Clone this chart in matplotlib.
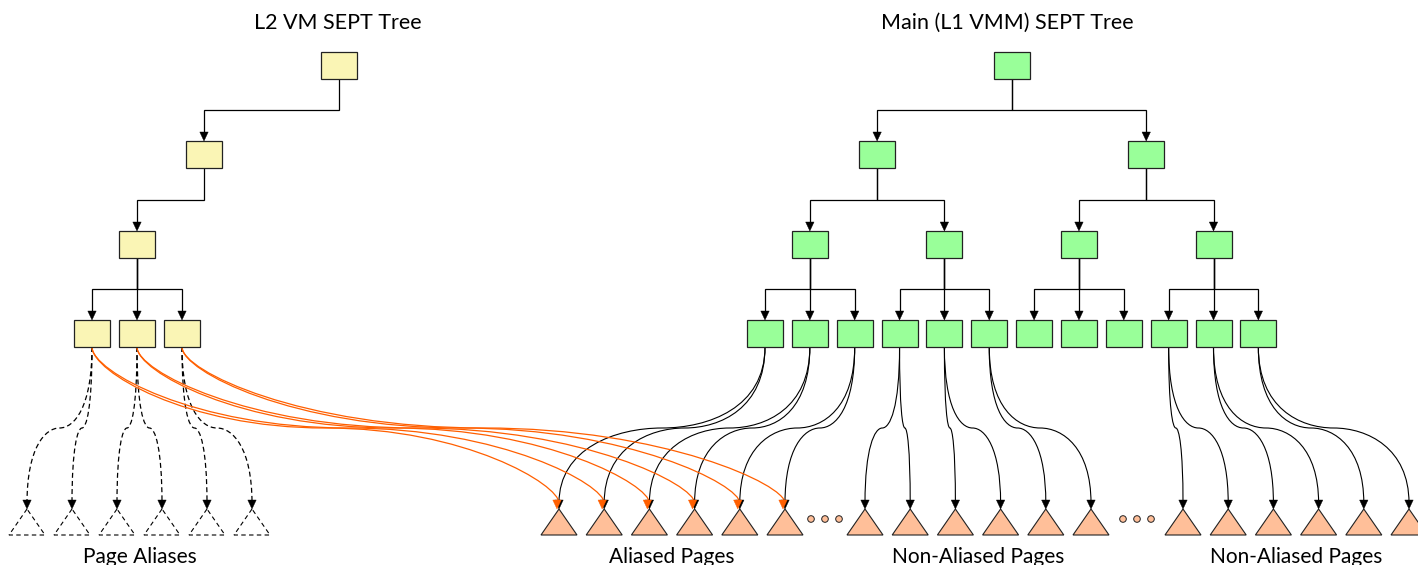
import matplotlib
matplotlib.use('Agg')
import matplotlib.pyplot as plt
from matplotlib.path import Path
from matplotlib.patches import PathPatch, Polygon, Rectangle, Circle

# ---- diagram content ----
titles = ['L2 VM SEPT Tree', 'Main (L1 VMM) SEPT Tree']
l2_chain_len = 3                 # single-child levels above the L2 leaf tables
l2_leaf_tables = 3
aliases_per_table = 2
main_branching = [2, 2, 3]       # children per node, level by level
# main-tree leaf table -> pages it maps (global page index)
main_leaf_pages = {0: [0, 1], 1: [2, 3], 2: [4, 5],
                   3: [6, 7], 4: [8, 9], 5: [10, 11],
                   9: [12, 13], 10: [14, 15], 11: [16, 17]}
page_groups = ['Aliased Pages', 'Non-Aliased Pages', 'Non-Aliased Pages']
pages_per_group = [6, 6, 6]
alias_label = 'Page Aliases'

# ---- layout (pixels) ----
W, H = 1418, 565
BOX_W, BOX_H = 36, 27
LEVEL_TOP = [52, 141, 231, 320]
TRI_TOP, TRI_BOT, TRI_W = 509, 535, 36
MID_Y = 428
L2_LEAF_X0, L2_PITCH = 92, 45
L2_CHAIN_STEP = [67, 135]
MAIN_LEAF_X0, MAIN_PITCH = 765, 44.85
ALIAS_X0, ALIAS_PITCH = 27, 45
GROUP_X0 = [559, 865, 1183]
PAGE_PITCH = 45.2

YELLOW = '#FAF5B5'
GREEN = '#99FF99'
PEACH = '#FFBF99'
ORANGE = '#FF5F00'
EDGE = '#222222'

fig = plt.figure(figsize=(W / 100, H / 100), dpi=100)
ax = fig.add_axes([0, 0, 1, 1])
ax.set_xlim(0, W)
ax.set_ylim(H, 0)
ax.axis('off')
plt.rcParams['font.family'] = ['Lato', 'DejaVu Sans']


def box(x, level, color):
    ax.add_patch(Rectangle((x - BOX_W / 2, LEVEL_TOP[level]), BOX_W, BOX_H,
                           facecolor=color, edgecolor=EDGE, lw=0.9, zorder=4))


def arrowhead(x, y, color='black'):
    ax.add_patch(Polygon([(x - 4.2, y - 9), (x + 4.2, y - 9), (x, y)], closed=True,
                         facecolor=color, edgecolor=color, lw=0.3, zorder=6))


def elbow(px, cx, level):
    y0 = LEVEL_TOP[level] + BOX_H
    y1 = LEVEL_TOP[level + 1]
    ym = (y0 + y1) / 2
    ax.plot([px, px, cx, cx], [y0, ym, ym, y1 - 8], color='black', lw=0.9, zorder=3,
            solid_joinstyle='miter')
    arrowhead(cx, y1)


def s_curve(sx, sy, tx, ty, color, ls='-', lw=0.8, k1=0.75, k2=0.45, z=2):
    mx = (sx + tx) / 2
    dy1 = MID_Y - sy
    dy2 = ty - MID_Y
    verts = [(sx, sy),
             (sx, sy + k1 * dy1), (mx - k2 * (mx - sx), MID_Y), (mx, MID_Y),
             (mx + k2 * (tx - mx), MID_Y), (tx, ty - k1 * dy2), (tx, ty - 6)]
    codes = [Path.MOVETO] + [Path.CURVE4] * 6
    ax.add_patch(PathPatch(Path(verts, codes), facecolor='none', edgecolor=color,
                           lw=lw, linestyle=ls, zorder=z))


def triangle(x, dashed=False):
    pts = [(x, TRI_TOP), (x - TRI_W / 2, TRI_BOT), (x + TRI_W / 2, TRI_BOT)]
    if dashed:
        ax.add_patch(Polygon(pts, closed=True, facecolor='white', edgecolor='black',
                             lw=0.8, linestyle=(0, (4, 3)), zorder=4))
    else:
        ax.add_patch(Polygon(pts, closed=True, facecolor=PEACH, edgecolor=EDGE,
                             lw=0.8, zorder=4))


# ---- page positions ----
page_x = []
for g, n in enumerate(pages_per_group):
    page_x += [GROUP_X0[g] + i * PAGE_PITCH for i in range(n)]
alias_x = [ALIAS_X0 + i * ALIAS_PITCH for i in range(l2_leaf_tables * aliases_per_table)]

# ---- L2 VM tree ----
l2_leaf_x = [L2_LEAF_X0 + i * L2_PITCH for i in range(l2_leaf_tables)]
chain_x = [sum(l2_leaf_x) / len(l2_leaf_x)]
for step in L2_CHAIN_STEP:
    chain_x.append(chain_x[-1] + step)
chain_x = chain_x[::-1]          # root first
for lv in range(l2_chain_len):
    box(chain_x[lv], lv, YELLOW)
for lv in range(l2_chain_len - 1):
    elbow(chain_x[lv], chain_x[lv + 1], lv)
for x in l2_leaf_x:
    box(x, 3, YELLOW)
    elbow(chain_x[-1], x, 2)
ax.text(chain_x[0] - 1, 23, titles[0], ha='center', va='center', fontsize=15.5)

# ---- main tree ----
n_leaves = 1
for b in main_branching:
    n_leaves *= b
levels = [[MAIN_LEAF_X0 + i * MAIN_PITCH for i in range(n_leaves)]]
for b in main_branching[::-1]:
    child = levels[0]
    levels.insert(0, [sum(child[i:i + b]) / b for i in range(0, len(child), b)])
for lv, xs in enumerate(levels):
    for i, x in enumerate(xs):
        box(x, lv, GREEN)
        if lv < len(levels) - 1:
            b = main_branching[lv]
            for cx in levels[lv + 1][i * b:(i + 1) * b]:
                elbow(x, cx, lv)
ax.text(levels[0][0] - 4, 23, titles[1], ha='center', va='center', fontsize=15.5)

# ---- leaf -> page curves ----
leaf_bot = LEVEL_TOP[3] + BOX_H
for leaf, pages in main_leaf_pages.items():
    for p in pages:
        s_curve(levels[-1][leaf], leaf_bot, page_x[p], TRI_TOP, 'black')
for j, x in enumerate(l2_leaf_x):
    for a in range(aliases_per_table):
        idx = j * aliases_per_table + a
        s_curve(x, leaf_bot, alias_x[idx], TRI_TOP, 'black', ls=(0, (4, 2.5)), lw=0.9)
        s_curve(x, leaf_bot, page_x[idx], TRI_TOP, ORANGE, lw=0.9, k1=0.3, k2=0.6, z=3)

# ---- pages ----
for x in alias_x:
    triangle(x, dashed=True)
    arrowhead(x, TRI_TOP)
for x in page_x:
    triangle(x)
for leaf, pages in main_leaf_pages.items():
    for p in pages:
        arrowhead(page_x[p], TRI_TOP)
for idx in range(l2_leaf_tables * aliases_per_table):
    arrowhead(page_x[idx] - 2, TRI_TOP, ORANGE)

# ellipsis dots between page groups
start = 0
for g in range(len(pages_per_group) - 1):
    start += pages_per_group[g]
    cx = (page_x[start - 1] + page_x[start]) / 2
    for d in (-14, 0, 14):
        ax.add_patch(Circle((cx + d, 519), 3.3, facecolor=PEACH, edgecolor=EDGE,
                            lw=0.7, zorder=4))

# ---- labels ----
ax.text(sum(alias_x) / len(alias_x), 563, alias_label, ha='center',
        va='baseline', fontsize=15)
start = 0
for g, n in enumerate(pages_per_group):
    xs = page_x[start:start + n]
    start += n
    ax.text(sum(xs) / n, 563, page_groups[g], ha='center', va='baseline', fontsize=15)

fig.savefig('out.png', dpi=100)
